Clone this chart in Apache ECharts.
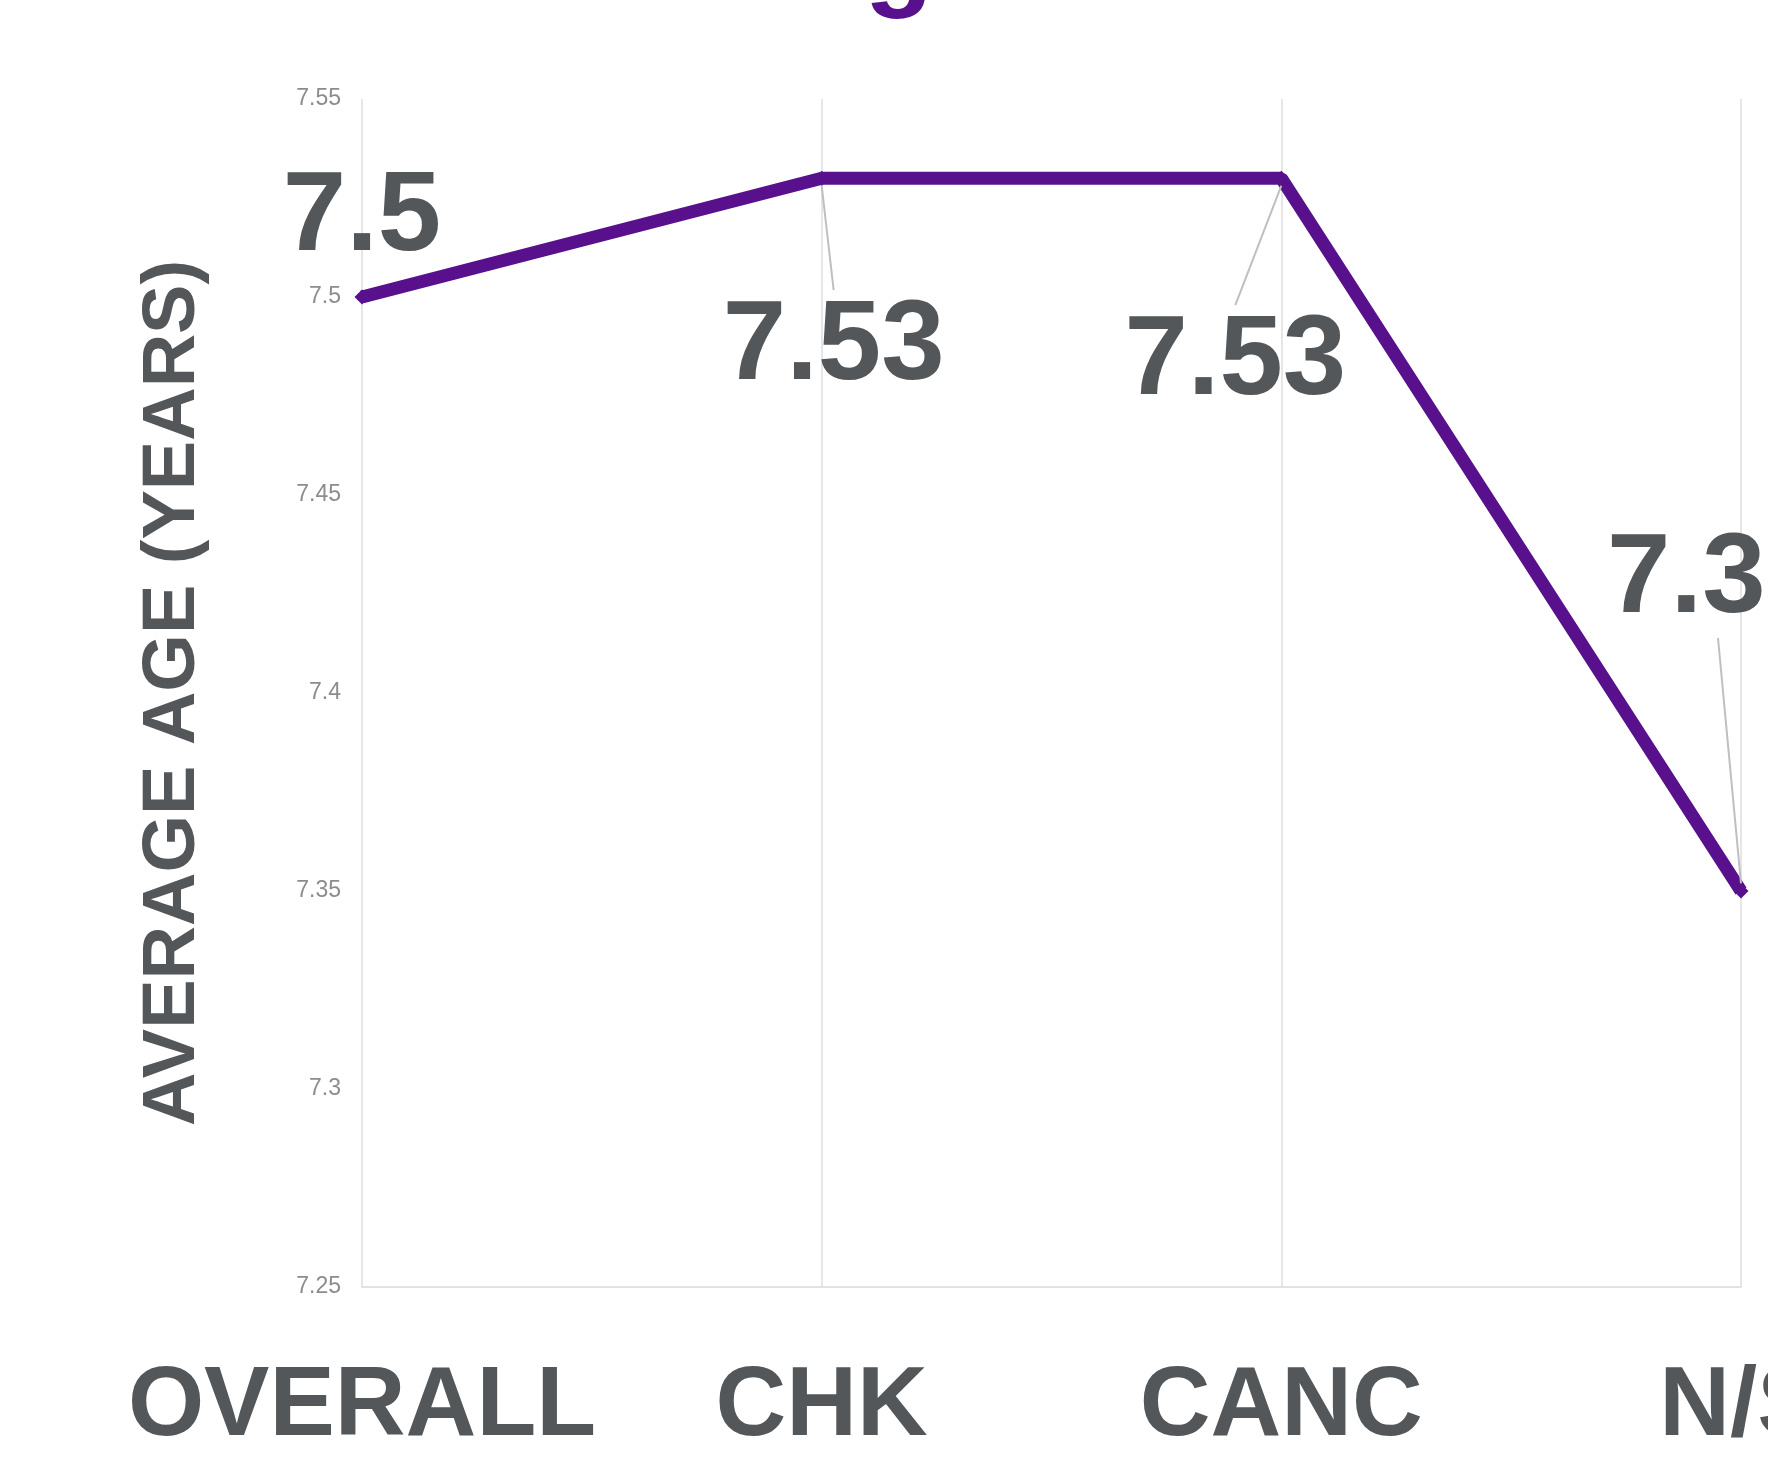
<!DOCTYPE html>
<html>
<head>
<meta charset="utf-8">
<title>Average age</title>
<script src="https://cdn.jsdelivr.net/npm/echarts@6/dist/echarts.min.js"></script>
<style>
  html, body { margin: 0; padding: 0; background: #fff; }
  #chart { width: 1768px; height: 1466px; }
</style>
</head>
<body>
<div id="chart"></div>
<script>
// data
const categories = ['OVERALL', 'CHK', 'CANC', 'N/S'];
const avgAge = [7.5, 7.53, 7.53, 7.35];
const yTicks = { min: 7.25, max: 7.55, step: 0.05 };

// where each value label was dragged to (dx, dy from the point)
const labelShift = [[0, -78], [12, 169], [-46, 184], [-23, -310]];

const FONT = '"Liberation Sans", Arial, sans-serif';
const GREY_TEXT = '#54575a';
const PURPLE = '#58108c';

const chart = echarts.init(document.getElementById('chart'));

chart.setOption({
  backgroundColor: '#fff',
  animation: false,
  // title sits mostly above the visible area, only its descenders show
  title: {
    text: 'Figure 4',
    left: 765,
    top: -91,
    padding: 0,
    textStyle: {
      fontFamily: FONT,
      fontSize: 112,
      fontWeight: 'bold',
      color: PURPLE,
    },
  },
  grid: {
    left: 362,
    right: 27,
    top: 99,
    bottom: 179,
    containLabel: false,
    outerBoundsMode: 'none',
  },
  xAxis: {
    type: 'category',
    boundaryGap: false,
    data: categories,
    axisLine: { lineStyle: { color: '#d9d9d9', width: 1.5 } },
    axisTick: { show: false },
    splitLine: { show: true, interval: 0, lineStyle: { color: '#dedede', width: 1.5 } },
    axisLabel: {
      interval: 0,
      hideOverlap: false,
      margin: 72,
      fontFamily: FONT,
      fontSize: 98,
      fontWeight: 'bold',
      color: GREY_TEXT,
    },
  },
  yAxis: {
    type: 'value',
    min: yTicks.min,
    max: yTicks.max,
    interval: yTicks.step,
    name: 'AVERAGE AGE (YEARS)',
    nameLocation: 'middle',
    nameGap: 151,
    nameTextStyle: {
      fontFamily: FONT,
      fontSize: 74,
      fontWeight: 'bold',
      color: GREY_TEXT,
    },
    axisLine: { show: false },
    axisTick: { show: false },
    splitLine: { show: false },
    axisLabel: {
      margin: 21,
      fontFamily: FONT,
      fontSize: 23,
      color: '#8c8c8c',
      formatter: (v) => String(+v.toFixed(2)),
    },
  },
  series: [{
    type: 'line',
    data: avgAge.map((v, i) => ({ value: v, labelLine: { show: i !== 0 } })),
    symbol: 'diamond',
    symbolSize: 15,
    itemStyle: { color: PURPLE },
    lineStyle: { color: PURPLE, width: 13 },
    label: {
      show: true,
      position: 'inside',
      fontFamily: FONT,
      fontSize: 114,
      fontWeight: 'bold',
      color: GREY_TEXT,
    },
    labelLine: {
      show: true,
      lineStyle: { color: '#bfbfbf', width: 2 },
    },
    labelLayout: (params) => {
      const s = labelShift[params.dataIndex];
      return { dx: s[0], dy: s[1] };
    },
  }],
});
</script>
</body>
</html>
